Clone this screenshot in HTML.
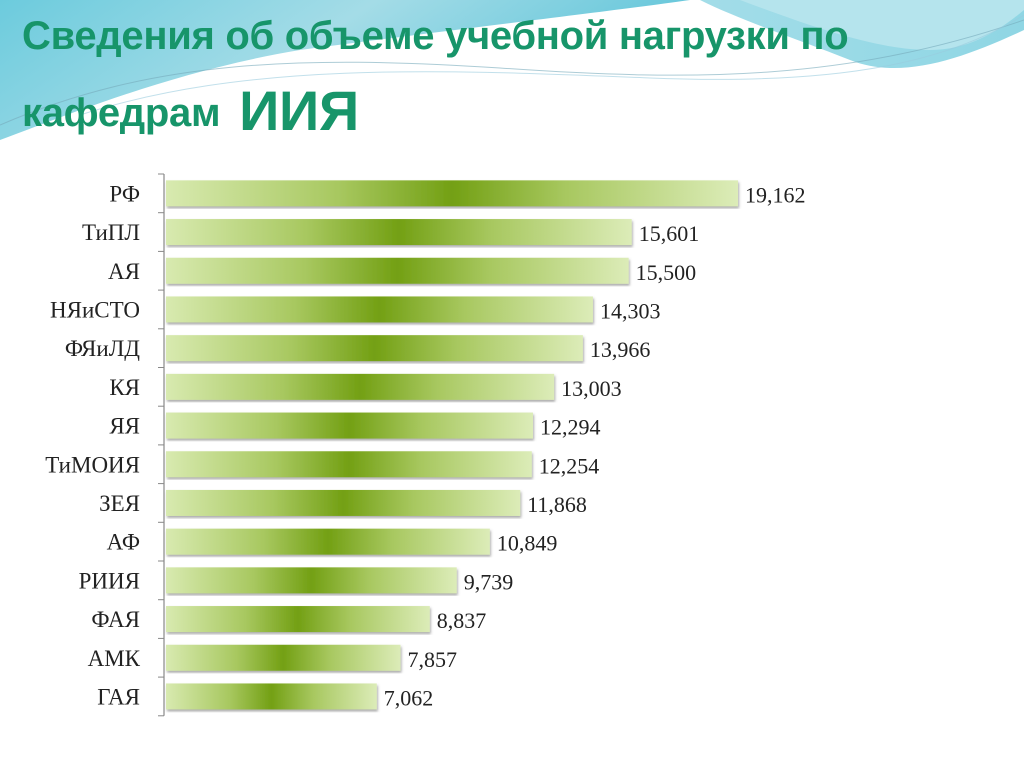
<!DOCTYPE html>
<html><head><meta charset="utf-8"><style>
body{margin:0;width:1024px;height:768px;overflow:hidden;background:#fff;font-family:"Liberation Sans","DejaVu Sans",sans-serif}
#bg{position:absolute;left:0;top:0}
.t{position:absolute;color:#17956a;font-weight:bold;font-family:"Liberation Sans Narrow","Liberation Sans",sans-serif;}
</style></head><body>
<svg id="bg" width="1024" height="768">
<defs>
<linearGradient id="sw" x1="0" y1="0" x2="1" y2="0.3"><stop offset="0" stop-color="#6ccbdd"/><stop offset="0.5" stop-color="#a4dce7"/><stop offset="1" stop-color="#5ec4d9"/></linearGradient>
<linearGradient id="sw2" x1="0" y1="0" x2="1" y2="0"><stop offset="0" stop-color="#cdecf2"/><stop offset="1" stop-color="#8fd6e4"/></linearGradient>
</defs>
<path d="M0 0 H700 C740 20 800 40 850 60 C900 80 960 60 1024 30 V0 Z" fill="url(#sw2)"/>
<path d="M0 0 H690 C620 10 450 30 300 50 C180 70 80 110 0 140 Z" fill="url(#sw)"/>
<path d="M740 0 C820 30 880 50 930 50 C970 50 1000 30 1024 10 V0 Z" fill="#b5e4ed"/>
<path d="M0 125 C150 60 300 55 500 68 C700 82 850 80 1024 20" stroke="#7ab" stroke-width="1" fill="none" opacity=".6"/>
<path d="M80 115 C250 60 450 70 650 78 C850 86 950 60 1024 15" stroke="#9cd" stroke-width="1" fill="none" opacity=".6"/>
</svg>
<div class="t" style="left:22px;top:14px;font-size:40px;letter-spacing:-0.3px">Сведения об объеме учебной нагрузки по</div>
<div class="t" style="left:22px;top:74px;font-size:40px;letter-spacing:-0.3px">кафедрам <span style="font-size:56px;position:relative;top:4px;margin-left:8px">ИИЯ</span></div>
<svg id="chart" width="1024" height="768" style="position:absolute;left:0;top:0">
<defs>
<linearGradient id="bar" x1="0" y1="0" x2="1" y2="0"><stop offset="0" stop-color="#d8eab0"/><stop offset="0.3" stop-color="#a8c860"/><stop offset="0.5" stop-color="#73a014"/><stop offset="0.7" stop-color="#a8c860"/><stop offset="1" stop-color="#dcecb8"/></linearGradient>
<filter id="sh"><feDropShadow dx="1" dy="2" stdDeviation="1.2" flood-color="#555" flood-opacity="0.5"/></filter>
</defs>
<g id="plot"></g>
</svg>
<script>
const categories=["РФ","ТиПЛ","АЯ","НЯиСТО","ФЯиЛД","КЯ","ЯЯ","ТиМОИЯ","ЗЕЯ","АФ","РИИЯ","ФАЯ","АМК","ГАЯ"];
const values=[19.162,15.601,15.500,14.303,13.966,13.003,12.294,12.254,11.868,10.849,9.739,8.837,7.857,7.062];
const labels=["19,162","15,601","15,500","14,303","13,966","13,003","12,294","12,254","11,868","10,849","9,739","8,837","7,857","7,062"];
const ns="http://www.w3.org/2000/svg";
const g=document.getElementById('plot');
const x0=166,top0=174,band=38.7,bh=26;
const xs=v=>x0+v*29.85;
const ys=i=>top0+i*band;
function mk(t,a){const e=document.createElementNS(ns,t);for(const k in a)e.setAttribute(k,a[k]);g.appendChild(e);return e;}
const ax=mk('line',{x1:164,y1:top0,x2:164,y2:ys(categories.length),stroke:'#888','stroke-width':1.2});


for(let i=0;i<=categories.length;i++){const tk=mk('line',{x1:158,x2:164,y1:ys(i),y2:ys(i),stroke:'#888'});

}
categories.forEach((c,i)=>{
const cy=ys(i)+band/2;
const r=mk('rect',{x:x0,y:cy-bh/2,width:xs(values[i])-x0,height:bh,fill:'url(#bar)',filter:'url(#sh)'});


const l=mk('text',{x:140,y:cy+8,'text-anchor':'end','font-size':23,fill:'#222','font-family':'Liberation Serif, serif'});l.textContent=c;


const v=mk('text',{x:xs(values[i])+7,y:cy+9,'font-size':22,fill:'#222','font-family':'Liberation Serif, serif'});v.textContent=labels[i];


});
</script>
</body></html>
